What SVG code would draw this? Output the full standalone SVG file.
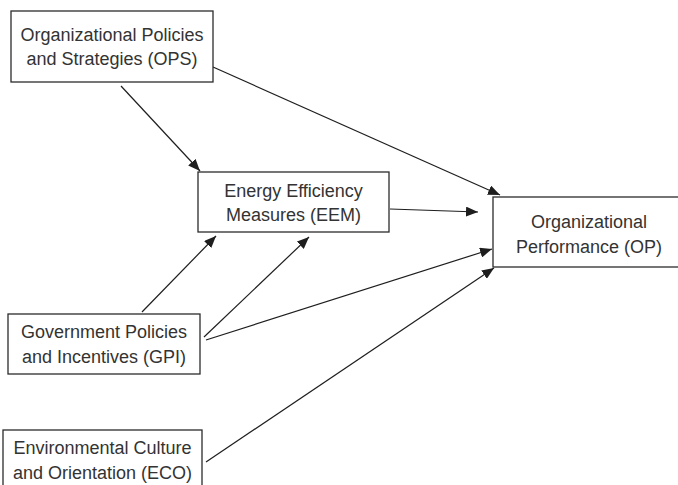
<svg xmlns="http://www.w3.org/2000/svg" width="678" height="485" viewBox="0 0 678 485">
  <style>
    .box { fill: #ffffff; stroke: #2b2b2b; stroke-width: 1.3; }
    .lbl { font-family: "Liberation Sans", Arial, sans-serif; font-size: 18px; fill: #333333; text-anchor: middle; }
    .edge { stroke: #1e1e1e; stroke-width: 1.2; fill: none; marker-end: url(#arrow); }
  </style>
  <defs>
    <marker id="arrow" viewBox="0 0 12 10" refX="12" refY="5" markerWidth="12" markerHeight="10" markerUnits="userSpaceOnUse" orient="auto">
      <path d="M0,0 L12,5 L0,10 Z" fill="#1e1e1e"/>
    </marker>
  </defs>
  <rect width="678" height="485" fill="#ffffff"/>

  <g id="connectors">
    <line class="edge" x1="213" y1="67" x2="500" y2="195"/>
    <line class="edge" x1="121" y1="86" x2="200" y2="171"/>
    <line class="edge" x1="390" y1="209" x2="478" y2="212"/>
    <line class="edge" x1="142" y1="312" x2="216" y2="236"/>
    <line class="edge" x1="204" y1="337" x2="309" y2="237"/>
    <line class="edge" x1="206" y1="340" x2="492" y2="249"/>
    <line class="edge" x1="206" y1="462" x2="494" y2="268"/>
  </g>

  <g id="ops">
    <rect class="box" x="11" y="11" width="202" height="71"/>
    <text class="lbl" x="112" y="41">Organizational Policies</text>
    <text class="lbl" x="112" y="65">and Strategies (OPS)</text>
  </g>

  <g id="eem">
    <rect class="box" x="198" y="172" width="191" height="60"/>
    <text class="lbl" x="293.5" y="197">Energy Efficiency</text>
    <text class="lbl" x="293.5" y="221">Measures (EEM)</text>
  </g>

  <g id="op">
    <rect class="box" x="493" y="197" width="192" height="70"/>
    <text class="lbl" x="589" y="228">Organizational</text>
    <text class="lbl" x="589" y="253">Performance (OP)</text>
  </g>

  <g id="gpi">
    <rect class="box" x="8" y="314" width="192" height="60"/>
    <text class="lbl" x="104" y="338">Government Policies</text>
    <text class="lbl" x="104" y="363">and Incentives (GPI)</text>
  </g>

  <g id="eco">
    <rect class="box" x="3" y="430" width="199" height="60"/>
    <text class="lbl" x="102.5" y="454">Environmental Culture</text>
    <text class="lbl" x="102.5" y="479">and Orientation (ECO)</text>
  </g>
</svg>
